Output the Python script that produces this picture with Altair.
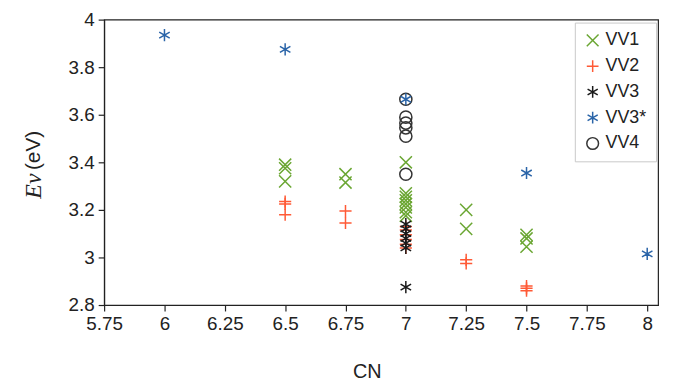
import altair as alt
import pandas as pd

# ---- data ----
vv1_x = [6.5, 6.5, 6.5, 6.75, 6.75, 7, 7, 7, 7, 7, 7, 7, 7, 7.25, 7.25, 7.5, 7.5, 7.5]
vv1_y = [3.39, 3.375, 3.32, 3.35, 3.315, 3.40, 3.27, 3.255, 3.24, 3.225, 3.21, 3.19, 3.175, 3.20, 3.12, 3.095, 3.08, 3.045]

vv2_x = [6.5, 6.5, 6.5, 6.75, 6.75, 7, 7, 7, 7, 7, 7, 7.25, 7.25, 7.5, 7.5, 7.5]
vv2_y = [3.235, 3.225, 3.18, 3.195, 3.145, 3.13, 3.115, 3.095, 3.075, 3.055, 3.04, 2.99, 2.975, 2.88, 2.87, 2.86]

vv3_x = [7, 7, 7, 7, 7, 7, 7]
vv3_y = [3.14, 3.12, 3.10, 3.08, 3.06, 3.04, 2.875]

vv3s_x = [6, 6.5, 7, 7.5, 8]
vv3s_y = [3.935, 3.875, 3.665, 3.355, 3.015]

vv4_x = [7, 7, 7, 7, 7, 7]
vv4_y = [3.665, 3.59, 3.565, 3.545, 3.51, 3.35]

series = ["VV1", "VV2", "VV3", "VV3*", "VV4"]
colors = ["#6aa632", "#ff5a36", "#1a1a1a", "#2a64a8", "#333333"]
widths = [1.5, 1.5, 1.5, 1.6, 2.3]
shapes = [
    "M-1,-1L1,1M-1,1L1,-1",
    "M-1,0L1,0M0,-1L0,1",
    "M0,-1L0,1M-0.866,-0.5L0.866,0.5M-0.866,0.5L0.866,-0.5",
    "M0,-1L0,1M-0.866,-0.5L0.866,0.5M-0.866,0.5L0.866,-0.5",
    "circle",
]
x_ticks = [5.75, 6, 6.25, 6.5, 6.75, 7, 7.25, 7.5, 7.75, 8]
y_ticks = [2.8, 3.0, 3.2, 3.4, 3.6, 3.8, 4.0]

rows = []
for name, xs, ys in [("VV1", vv1_x, vv1_y), ("VV2", vv2_x, vv2_y), ("VV3", vv3_x, vv3_y),
                     ("VV3*", vv3s_x, vv3s_y), ("VV4", vv4_x, vv4_y)]:
    for a, b in zip(xs, ys):
        rows.append({"CN": a, "Ev": b, "series": name})
df = pd.DataFrame(rows)
df["order"] = df["series"].map({"VV1": 1, "VV2": 2, "VV3": 3, "VV3*": 5, "VV4": 4})

FONT = "Liberation Sans"

points = alt.Chart(df).mark_point(filled=False, size=150, opacity=1).encode(
    x=alt.X("CN:Q", scale=alt.Scale(domain=[5.75, 8.045], nice=False, zero=False),
            axis=alt.Axis(values=x_ticks, labelExpr="'' + datum.value", title="CN", grid=False,
                          labelFontSize=19, titleFontSize=20, titleFontWeight="normal",
                          titleX=265, titleY=57, titleFont=FONT, labelFont=FONT,
                          labelColor="#222", titleColor="#222", domainColor="#222",
                          tickColor="#222", labelPadding=4,
                          labelFlush=False, labelOverlap=False)),
    y=alt.Y("Ev:Q", scale=alt.Scale(domain=[2.8, 4.0], nice=False, zero=False),
            axis=alt.Axis(values=y_ticks, labelExpr="'' + datum.value", title=None, grid=False,
                          labelFontSize=19, labelFont=FONT, labelColor="#222",
                          domainColor="#222", tickColor="#222", labelPadding=4,
                          labelFlush=False, labelOverlap=False)),
    color=alt.Color("series:N", scale=alt.Scale(domain=series, range=colors),
                    legend=alt.Legend(title=None, orient="none", legendX=475, legendY=3,
                                      labelFontSize=18, labelFont=FONT, labelColor="#222",
                                      padding=9, strokeColor="#c8c8c8", fillColor="white",
                                      symbolSize=140, symbolStrokeWidth=1.5, rowPadding=8,
                                      labelOffset=4)),
    shape=alt.Shape("series:N", scale=alt.Scale(domain=series, range=shapes)),
    strokeWidth=alt.StrokeWidth("series:N", scale=alt.Scale(domain=series, range=widths),
                                legend=None),
    order=alt.Order("order:Q"),
)

ttl1 = alt.Chart(pd.DataFrame({"t": ["(eV)"]})).mark_text(
    angle=270, font=FONT, fontSize=21, color="#222", align="center", baseline="middle"
).encode(text="t:N", x=alt.value(-71), y=alt.value(132))

ttl2 = alt.Chart(pd.DataFrame({"t": ["Eν"]})).mark_text(
    angle=270, font="Liberation Serif", fontStyle="italic", fontSize=24, color="#222",
    align="center", baseline="middle"
).encode(text="t:N", x=alt.value(-71), y=alt.value(168))

chart = alt.layer(points, ttl1, ttl2).properties(
    width=559, height=288,
    autosize=alt.AutoSizeParams(type="none"),
    padding={"left": 97, "top": 10, "right": 8, "bottom": 80},
).configure_view(stroke="#222", strokeWidth=1.2).configure_axis(
    domainWidth=1.2, tickWidth=1.2, tickSize=6
)

chart.save("out.html", embed_options={"renderer": "svg", "actions": False})
